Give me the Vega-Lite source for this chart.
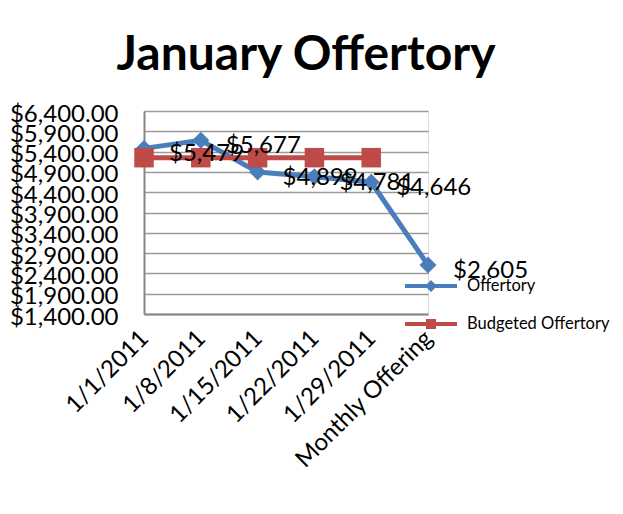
{
  "$schema": "https://vega.github.io/schema/vega-lite/v6.json",
  "width": 284,
  "height": 203,
  "padding": {"left": 9, "top": 32, "right": 5, "bottom": 5},
  "background": "white",
  "title": {
    "text": "January Offertory",
    "font": "Lato",
    "fontSize": 48,
    "fontWeight": "bold",
    "color": "black",
    "anchor": "middle",
    "frame": "group",
    "dx": 20,
    "offset": 22
  },
  "data": {
    "values": [
      {"date": "1/1/2011", "series": "Offertory", "amount": 5479},
      {"date": "1/8/2011", "series": "Offertory", "amount": 5677},
      {"date": "1/15/2011", "series": "Offertory", "amount": 4899},
      {"date": "1/22/2011", "series": "Offertory", "amount": 4781},
      {"date": "1/29/2011", "series": "Offertory", "amount": 4646},
      {"date": "Monthly Offering", "series": "Offertory", "amount": 2605},
      {"date": "1/1/2011", "series": "Budgeted Offertory", "amount": 5250},
      {"date": "1/8/2011", "series": "Budgeted Offertory", "amount": 5250},
      {"date": "1/15/2011", "series": "Budgeted Offertory", "amount": 5250},
      {"date": "1/22/2011", "series": "Budgeted Offertory", "amount": 5250},
      {"date": "1/29/2011", "series": "Budgeted Offertory", "amount": 5250}
    ]
  },
  "encoding": {
    "x": {
      "field": "date",
      "type": "ordinal",
      "sort": null,
      "scale": {"type": "point", "padding": 0},
      "axis": {
        "title": null,
        "labelAngle": -45,
        "labelFont": "Lato",
        "labelFontSize": 24,
        "labelColor": "black",
        "labelPadding": 12,
        "labelOffset": -8,
        "labelLimit": 400,
        "ticks": false,
        "domainColor": "#868686",
        "domainWidth": 2,
        "grid": false
      }
    },
    "y": {
      "field": "amount",
      "type": "quantitative",
      "scale": {"domain": [1400, 6400], "nice": false, "zero": false},
      "axis": {
        "title": null,
        "values": [1400, 1900, 2400, 2900, 3400, 3900, 4400, 4900, 5400, 5900, 6400],
        "format": "$,.2f",
        "labelFont": "Lato",
        "labelFontSize": 24,
        "labelColor": "black",
        "labelPadding": 26,
        "labelOffset": 3,
        "labelOverlap": false,
        "ticks": false,
        "domainColor": "#868686",
        "domainWidth": 2,
        "gridColor": "#9a9a9a",
        "gridWidth": 1.5
      }
    }
  },
  "layer": [
    {
      "mark": {"type": "line", "strokeWidth": 5},
      "encoding": {
        "color": {
          "field": "series",
          "type": "nominal",
          "scale": {"domain": ["Offertory", "Budgeted Offertory"], "range": ["#4A7EBB", "#BE4B48"]},
          "legend": {
            "title": null,
            "orient": "none",
            "legendX": 277,
            "legendY": 165,
            "labelFont": "Lato",
            "labelFontSize": 16.5,
            "labelColor": "black",
            "symbolSize": 400,
            "symbolType": "M-2.6,-0.2L2.6,-0.2L2.6,0.2L-2.6,0.2Z M0,-0.6L0.6,0L0,0.6L-0.6,0Z",
            "labelOffset": 26,
            "rowPadding": 19,
            "encode": {
              "symbols": {
                "update": {
                  "shape": {"signal": "datum.value === 'Offertory' ? 'M-2.6,-0.2L2.6,-0.2L2.6,0.2L-2.6,0.2Z M0,-0.6L0.6,0L0,0.6L-0.6,0Z' : 'M-2.6,-0.2L2.6,-0.2L2.6,0.2L-2.6,0.2Z M-0.5,-0.5L0.5,-0.5L0.5,0.5L-0.5,0.5Z'"},
                  "fill": {"signal": "scale('color', datum.value)"},
                  "fillOpacity": {"value": 1},
                  "strokeWidth": {"value": 0}
                }
              }
            }
          }
        }
      }
    },
    {
      "transform": [{"filter": "datum.series === 'Offertory'"}],
      "mark": {"type": "point", "filled": true, "opacity": 1, "shape": "diamond", "size": 290, "color": "#4A7EBB"}
    },
    {
      "transform": [{"filter": "datum.series === 'Budgeted Offertory'"}],
      "mark": {"type": "point", "filled": true, "opacity": 1, "shape": "square", "size": 380, "color": "#BE4B48"}
    },
    {
      "transform": [{"filter": "datum.series === 'Offertory'"}],
      "mark": {"type": "text", "align": "left", "baseline": "middle", "dx": 25, "dy": 6, "font": "Lato", "fontSize": 24, "color": "black"},
      "encoding": {
        "text": {"field": "amount", "type": "quantitative", "format": "$,.0f"}
      }
    }
  ]
}
